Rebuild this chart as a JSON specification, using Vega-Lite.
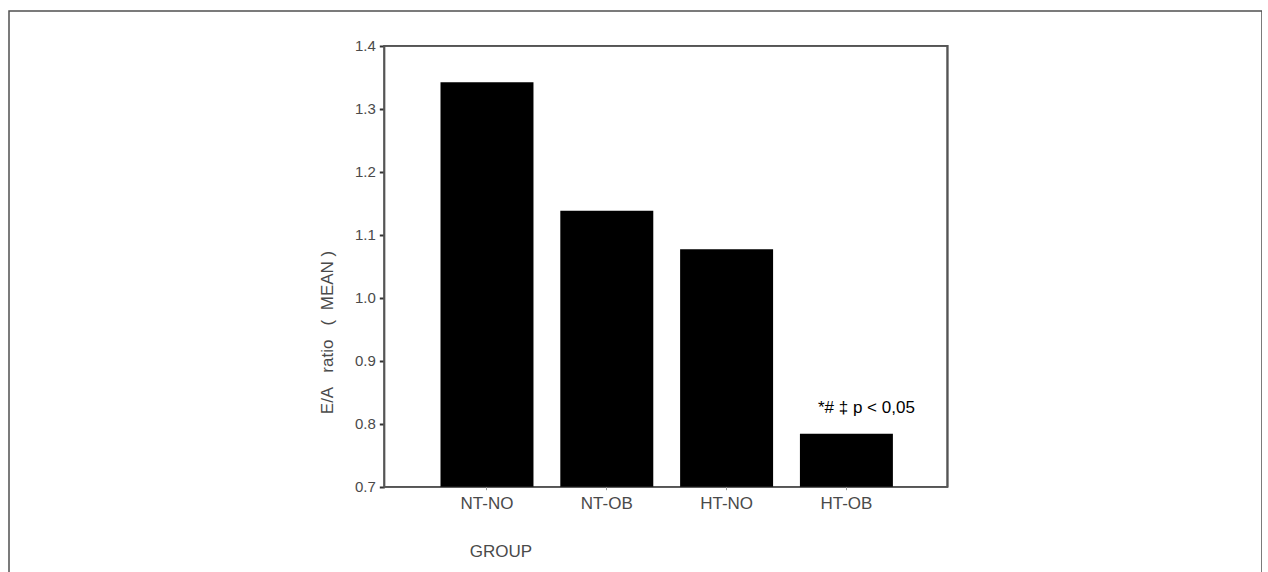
{
  "$schema": "https://vega.github.io/schema/vega-lite/v6.json",
  "width": 1253,
  "height": 580,
  "padding": {"left": 9, "top": 11, "right": 0, "bottom": 0},
  "autosize": {"type": "none"},
  "background": "white",
  "config": {
    "view": {"stroke": "#505050", "strokeWidth": 1.5},
    "font": "Liberation Sans"
  },
  "data": {
    "values": [
      {"group": "NT-NO", "value": 1.342},
      {"group": "NT-OB", "value": 1.138},
      {"group": "HT-NO", "value": 1.077},
      {"group": "HT-OB", "value": 0.784}
    ]
  },
  "layer": [
    {
      "mark": {"type": "rect", "fill": "transparent", "stroke": "#555555", "strokeWidth": 1.5},
      "encoding": {
        "x": {
          "datum": "NT-NO",
          "type": "nominal",
          "bandPosition": -0.604,
          "scale": {
            "domain": ["NT-NO", "NT-OB", "HT-NO", "HT-OB"],
            "range": [371.6, 943.8],
            "paddingInner": 0.224,
            "paddingOuter": 0.5,
            "align": 0.5
          },
          "axis": {
            "orient": "bottom",
            "offset": -104.3,
            "domain": false,
            "grid": false,
            "ticks": true,
            "tickSize": 3,
            "tickColor": "#999999",
            "labelAngle": 0,
            "labelFontSize": 17,
            "labelColor": "#4a4a4a",
            "labelPadding": 6,
            "title": "GROUP",
            "titleFontSize": 17,
            "titleFontWeight": "normal",
            "titleColor": "#4a4a4a",
            "titleX": 491.5,
            "titleY": 64.3,
            "titleBaseline": "middle",
            "titleAlign": "center"
          }
        },
        "x2": {"datum": "HT-OB", "bandPosition": 1.587},
        "y": {
          "datum": 0.7,
          "type": "quantitative",
          "scale": {"domain": [0.5344, 1.4551], "zero": false, "nice": false},
          "axis": {
            "orient": "left",
            "offset": -375.3,
            "values": [0.7, 0.8, 0.9, 1.0, 1.1, 1.2, 1.3, 1.4],
            "format": ".1f",
            "domain": false,
            "grid": false,
            "tickSize": 5,
            "tickWidth": 2,
            "tickColor": "#333333",
            "labelFontSize": 15,
            "labelColor": "#4a4a4a",
            "labelPadding": 4,
            "title": "E/A\u00a0\u00a0\u00a0ratio\u00a0\u00a0\u00a0(\u00a0\u00a0MEAN\u00a0)",
            "titleFontSize": 17,
            "titleFontWeight": "normal",
            "titleColor": "#4a4a4a",
            "titleAngle": 270,
            "titleX": -57,
            "titleY": 321,
            "titleBaseline": "middle",
            "titleAlign": "center"
          }
        },
        "y2": {"datum": 1.4}
      }
    },
    {
      "mark": {"type": "bar", "color": "black"},
      "encoding": {
        "x": {"field": "group", "type": "nominal"},
        "y": {"field": "value", "type": "quantitative"},
        "y2": {"datum": 0.7}
      }
    },
    {
      "data": {"values": [{"group": "HT-OB", "note": "*# ‡ p < 0,05"}]},
      "mark": {"type": "text", "fontSize": 17, "color": "black", "dx": 20, "baseline": "middle", "align": "center"},
      "encoding": {
        "x": {"field": "group", "type": "nominal"},
        "y": {"datum": 0.825},
        "text": {"field": "note"}
      }
    }
  ]
}
